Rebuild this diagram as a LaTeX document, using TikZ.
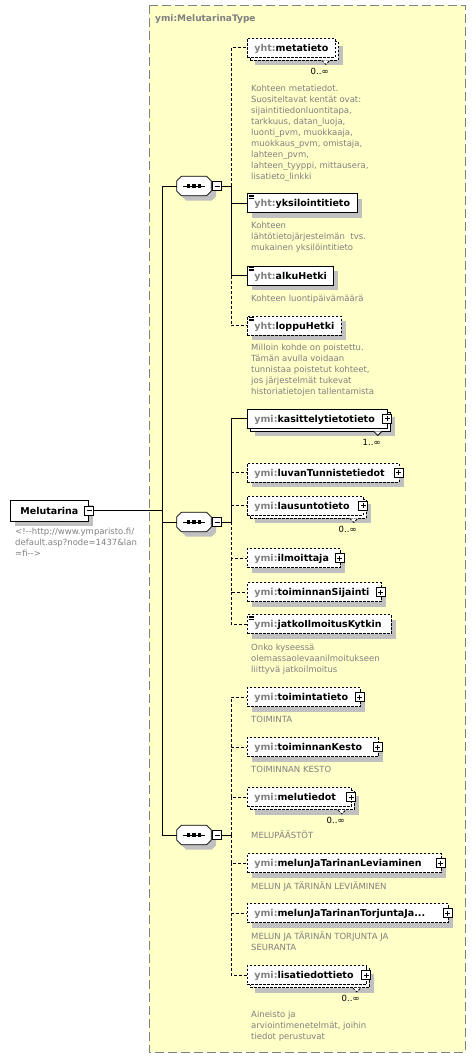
\documentclass[tikz,border=0pt]{standalone}
\usepackage{fontspec}
\setmainfont{DejaVu Sans}
\usetikzlibrary{shadows}

\definecolor{typefill}{RGB}{255,255,200}
\definecolor{typeline}{RGB}{128,128,128}
\definecolor{prefix}{RGB}{128,128,128}
\definecolor{notetext}{RGB}{128,128,128}
\definecolor{shadowgray}{RGB}{192,192,192}

\newcommand{\pfx}[1]{\textcolor{prefix}{#1:}}

\tikzset{
  elem/.style={draw, fill=white, anchor=west, line width=0.8pt, minimum height=19pt,
    inner xsep=7pt, inner ysep=0pt, text width=#1, align=left, text height=7pt, text depth=0pt,
    font=\fontsize{9.5}{11}\selectfont\bfseries},
  one/.style={elem=#1, drop shadow={shadow xshift=5pt, shadow yshift=-5pt, fill=shadowgray, opacity=1}},
  many/.style={elem=#1, drop shadow={shadow xshift=8pt, shadow yshift=-8pt, fill=shadowgray, opacity=1},
    general shadow={shadow xshift=3pt, shadow yshift=-3pt, draw=black, fill=white}},
  opt/.style={dash pattern=on 2.5pt off 1.5pt},
  icon/.style={path picture={\foreach \k in {1.5,3,4.5}
    \draw[solid, line width=0.6pt] ([xshift=1.5pt, yshift=-\k pt]path picture bounding box.north west) -- ++(5pt,0);}},
  pm/.style={draw, solid, fill=white, line width=0.8pt, minimum size=9pt, inner sep=0pt},
  minus/.style={pm, path picture={\draw[line width=0.8pt] ([xshift=2pt]path picture bounding box.west) -- ([xshift=-2pt]path picture bounding box.east);}},
  plus/.style={pm, path picture={\draw[line width=0.8pt] ([xshift=2pt]path picture bounding box.west) -- ([xshift=-2pt]path picture bounding box.east)
    ([yshift=-2pt]path picture bounding box.north) -- ([yshift=2pt]path picture bounding box.south);}},
  seq/.style={minimum width=34pt, minimum height=19pt, inner sep=0pt},
  octo/.style={draw, fill=white, line width=0.8pt, drop shadow={shadow xshift=5pt, shadow yshift=-5pt, fill=shadowgray, opacity=1}},
  notch/.style={fill=white, line width=0.8pt},
  mult/.style={anchor=north east, inner sep=0pt, font=\fontsize{8.5}{10}\selectfont},
  note/.style={anchor=north west, inner sep=0pt, align=left, text=notetext, font=\fontsize{8.5}{11}\selectfont},
  link/.style={line width=0.8pt},
  optlink/.style={link, dash pattern=on 3pt off 2pt},
  typebox/.style={draw=typeline, fill=typefill, line width=1pt, dash pattern=on 9pt off 4pt},
  typename/.style={anchor=west, inner sep=0pt, text=typeline, font=\fontsize{9}{11}\selectfont\bfseries}
}

\begin{document}
\begin{tikzpicture}[x=1pt,y=-1pt]
\useasboundingbox (0,0) rectangle (476,1058);

\draw[typebox] (149,5) rectangle (465,1052);
\node[typename] (tname) at (155,19) {ymi:MelutarinaType};

% root element
\node[one=58pt, inner xsep=10pt, minimum height=21pt] (mel) at (10,510.5) {Melutarina};
\node[minus] (melm) at ([xshift=0.5pt]mel.east) {};
\node[note] (melc) at (15,528) {<!{-}{-}http://www.ymparisto.fi/\\default.asp?node=1437\&lan\\=fi{-}{-}>};

% sequences
\node[seq] (seq1) at (194,186) {};
\node[seq] (seq2) at (194,522) {};
\node[seq] (seq3) at (194,835) {};
\foreach \s in {seq1,seq2,seq3} {
  \draw[octo] ([xshift=4.5pt]\s.north west) -- ([xshift=-4.5pt]\s.north east) -- ([yshift=-4.5pt]\s.north east)
    -- ([yshift=4.5pt]\s.south east) -- ([xshift=-4.5pt]\s.south east) -- ([xshift=4.5pt]\s.south west)
    -- ([yshift=4.5pt]\s.south west) -- ([yshift=-4.5pt]\s.north west) -- cycle;
  \draw[link] ([xshift=6pt]\s.west) -- ([xshift=-6pt]\s.east);
  \foreach \d in {-5.5,0,5.5}
    \fill ([xshift=\d pt]\s.center) +(-1.6pt,-1.6pt) rectangle +(1.6pt,1.6pt);
}
\node[minus] (seq1m) at (217,186) {};
\node[minus] (seq2m) at (217,522) {};
\node[minus] (seq3m) at (217,835) {};

\coordinate (trunk) at (162,510.5);
\coordinate (b1) at (231,186);
\coordinate (b2) at (231,522);
\coordinate (b3) at (231,835);

% first group
\node[many=74pt, opt] (meta) at (247,47.5) {\pfx{yht}metatieto};
\draw[notch, opt] ([xshift=-14pt,yshift=-3pt]meta.south east) -- ++(4pt,-4pt) -- ++(4pt,4pt);
\node[mult] (metan) at ([xshift=-7pt,yshift=-10.5pt]meta.south east) {0..∞};
\node[note] (metad) at (251,85) {Kohteen metatiedot.\\Suositeltavat kentät ovat:\\sijaintitiedonluontitapa,\\tarkkuus, datan\_luoja,\\luonti\_pvm, muokkaaja,\\muokkaus\_pvm, omistaja,\\lahteen\_pvm,\\lahteen\_tyyppi, mittausera,\\lisatieto\_linkki};

\node[one=96pt, icon] (yksilo) at (247,203) {\pfx{yht}yksilointitieto};
\node[note] (yksilod) at (251,222) {Kohteen\\lähtötietojärjestelmän\ \ tvs.\\mukainen yksilöintitieto};

\node[one=72pt, icon] (alku) at (247,275.5) {\pfx{yht}alkuHetki};
\node[note] (alkud) at (251,295) {Kohteen luontipäivämäärä};

\node[one=80pt, opt, icon] (loppu) at (247,325.5) {\pfx{yht}loppuHetki};
\node[note] (loppud) at (251,344) {Milloin kohde on poistettu.\\Tämän avulla voidaan\\tunnistaa poistetut kohteet,\\jos järjestelmät tukevat\\historiatietojen tallentamista};

% second group
\node[many=126pt] (kasit) at (247,418.5) {\pfx{ymi}kasittelytietotieto};
\node[plus] (kasitp) at ([xshift=-0.5pt]kasit.east) {};
\draw[notch] ([xshift=-14pt,yshift=-3pt]kasit.south east) -- ++(4pt,-4pt) -- ++(4pt,4pt);
\node[mult] (kasitn) at ([xshift=-7pt,yshift=-10.5pt]kasit.south east) {1..∞};

\node[one=138pt, opt] (luvan) at (247,472.5) {\pfx{ymi}luvanTunnistetiedot};
\node[plus] (luvanp) at ([xshift=-1pt]luvan.east) {};

\node[many=102pt, opt] (lausu) at (247,505.5) {\pfx{ymi}lausuntotieto};
\node[plus] (lausup) at ([xshift=-0.5pt]lausu.east) {};
\draw[notch, opt] ([xshift=-14pt,yshift=-3pt]lausu.south east) -- ++(4pt,-4pt) -- ++(4pt,4pt);
\node[mult] (lausun) at ([xshift=-7pt,yshift=-10.5pt]lausu.south east) {0..∞};

\node[one=79pt, opt] (ilmo) at (247,558) {\pfx{ymi}ilmoittaja};
\node[plus] (ilmop) at ([xshift=-1pt]ilmo.east) {};

\node[one=120pt, opt] (sijainti) at (247,592) {\pfx{ymi}toiminnanSijainti};
\node[plus] (sijaintip) at ([xshift=-1pt]sijainti.east) {};

\node[one=130pt, opt, icon] (jatko) at (247,624) {\pfx{ymi}jatkoIlmoitusKytkin};
\node[note] (jatkod) at (251,644) {Onko kyseessä\\olemassaolevaanilmoitukseen\\liittyvä jatkoilmoitus};

% third group
\node[one=99pt, opt] (toimi) at (247,697) {\pfx{ymi}toimintatieto};
\node[plus] (toimip) at ([xshift=-1pt]toimi.east) {};
\node[note] (toimid) at (251,716) {TOIMINTA};

\node[one=117pt, opt] (kesto) at (247,747) {\pfx{ymi}toiminnanKesto};
\node[plus] (kestop) at ([xshift=-1pt]kesto.east) {};
\node[note] (kestod) at (251,766) {TOIMINNAN KESTO};

\node[many=90pt, opt] (melut) at (247,797) {\pfx{ymi}melutiedot};
\node[plus] (melutp) at ([xshift=-0.5pt]melut.east) {};
\draw[notch, opt] ([xshift=-14pt,yshift=-3pt]melut.south east) -- ++(4pt,-4pt) -- ++(4pt,4pt);
\node[mult] (melutn) at ([xshift=-7pt,yshift=-10.5pt]melut.south east) {0..∞};
\node[note] (melutd) at (251,831) {MELUPÄÄSTÖT};

\node[one=180pt, opt] (levi) at (247,863) {\pfx{ymi}melunJaTarinanLeviaminen};
\node[plus] (levip) at ([xshift=-1pt]levi.east) {};
\node[note] (levid) at (251,882) {MELUN JA TÄRINÄN LEVIÄMINEN};

\node[one=187pt, opt] (torj) at (247,913) {\pfx{ymi}melunJaTarinanTorjuntaJa...};
\node[plus] (torjp) at ([xshift=-1pt]torj.east) {};
\node[note] (torjd) at (251,932) {MELUN JA TÄRINÄN TORJUNTA JA\\SEURANTA};

\node[many=105pt, opt] (lisa) at (247,975) {\pfx{ymi}lisatiedottieto};
\node[plus] (lisap) at ([xshift=-0.5pt]lisa.east) {};
\draw[notch, opt] ([xshift=-14pt,yshift=-3pt]lisa.south east) -- ++(4pt,-4pt) -- ++(4pt,4pt);
\node[mult] (lisan) at ([xshift=-7pt,yshift=-10.5pt]lisa.south east) {0..∞};
\node[note] (lisad) at (251,1011) {Aineisto ja\\arviointimenetelmät, joihin\\tiedot perustuvat};

% connectors
\draw[link] (melm.east) -- (trunk);
\draw[link] (trunk) |- (seq1.west);
\draw[link] (trunk) |- (seq2.west);
\draw[link] (trunk) |- (seq3.west);

\draw[link] (seq1m.east) -- (b1);
\draw[optlink] (b1) |- (meta.west);
\draw[link] (b1) |- (yksilo.west);
\draw[link] (b1) |- (alku.west);
\draw[optlink] (alku.west -| b1) |- (loppu.west);

\draw[link] (seq2m.east) -- (b2);
\draw[link] (b2) |- (kasit.west);
\draw[optlink] (luvan.west -| b2) -- (luvan.west);
\draw[optlink] (lausu.west -| b2) -- (lausu.west);
\draw[optlink] (b2) |- (ilmo.west);
\draw[optlink] (ilmo.west -| b2) |- (sijainti.west);
\draw[optlink] (sijainti.west -| b2) |- (jatko.west);

\draw[link] (seq3m.east) -- (b3);
\draw[optlink] (b3) |- (melut.west);
\draw[optlink] (melut.west -| b3) |- (kesto.west);
\draw[optlink] (kesto.west -| b3) |- (toimi.west);
\draw[optlink] (b3) |- (levi.west);
\draw[optlink] (levi.west -| b3) |- (torj.west);
\draw[optlink] (torj.west -| b3) |- (lisa.west);

\end{tikzpicture}
\end{document}
